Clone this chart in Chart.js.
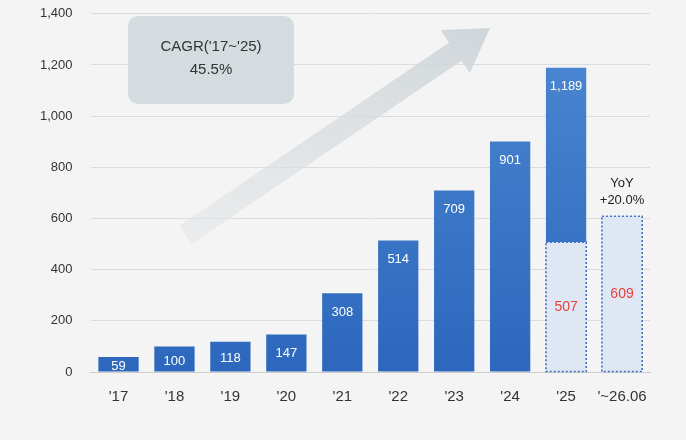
<!DOCTYPE html>
<html><head><meta charset="utf-8">
<script src="https://cdn.jsdelivr.net/npm/chart.js@4"></script>
<style>html,body{margin:0;background:#f4f4f4;overflow:hidden}#wrap{position:relative;top:-12px;width:686px;height:452px}</style>
</head><body><div id="wrap"><canvas id="c"></canvas></div>
<script>
const categories = ["'17","'18","'19","'20","'21","'22","'23","'24","'25","'~26.06"];
const totals = [59,100,118,147,308,514,709,901,1189,null];
const solidPart = [59,100,118,147,308,514,709,901,682,null];
const partialPart = [null,null,null,null,null,null,null,null,507,609];
const yTicks = [0,200,400,600,800,1000,1200,1400];

const OY = 12; // wrapper offset
const decor = {
  id:'decor',
  beforeDatasetsDraw(chart){
    const {ctx, chartArea:a} = chart;
    ctx.save();
    const x0=a.left+95,y0=235+OY,x1=490,y1=28+OY;
    const g=ctx.createLinearGradient(x0,y0,x1,y1);
    g.addColorStop(0,'rgba(225,228,230,0.6)');g.addColorStop(1,'#c6ced3');
    const ang=Math.atan2(y1-y0,x1-x0), w=11, hl=42, hw=26;
    ctx.translate(x0,y0);ctx.rotate(ang);
    const L=Math.hypot(x1-x0,y1-y0);
    ctx.beginPath();ctx.moveTo(0,-w);ctx.lineTo(L-hl,-w);ctx.lineTo(L-hl,-hw);ctx.lineTo(L,0);
    ctx.lineTo(L-hl,hw);ctx.lineTo(L-hl,w);ctx.lineTo(0,w);ctx.closePath();
    ctx.fillStyle=g;ctx.fill();
    ctx.restore();
  },
  afterDatasetsDraw(chart){
    const {ctx} = chart;
    ctx.save();
    ctx.fillStyle='#d4dcdf';
    ctx.beginPath();ctx.roundRect(128,16+OY,166,88,10);ctx.fill();
    ctx.fillStyle='#333';ctx.font='15px "Liberation Sans"';ctx.textAlign='center';ctx.textBaseline='middle';
    ctx.fillText("CAGR('17~'25)",211,47+OY);ctx.fillText('45.5%',211,70+OY);
    const m0=chart.getDatasetMeta(0), m1=chart.getDatasetMeta(1);
    ctx.font='13px "Liberation Sans"';
    m1.data.forEach((b,i)=>{
      if(solidPart[i]==null) return;
      const y = solidPart[i]<120 ? (b.y+b.base)/2+2 : b.y+19;
      ctx.fillStyle='#fff';ctx.fillText(totals[i].toLocaleString('en-US'),b.x,y);
    });
    m0.data.forEach((b,i)=>{
      if(partialPart[i]==null) return;
      ctx.fillStyle='#e8413c';ctx.font='14px "Liberation Sans"';
      ctx.fillText(String(partialPart[i]),b.x,(b.y+b.base)/2);
      ctx.setLineDash([2,2]);ctx.strokeStyle='#3f73bf';ctx.lineWidth=1.6;
      ctx.strokeRect(b.x-b.width/2,b.y,b.width,b.base-b.y);
      ctx.setLineDash([]);
    });
    const last=m0.data[9];
    ctx.fillStyle='#222';ctx.font='13px "Liberation Sans"';
    ctx.fillText('YoY',last.x,last.y-33);ctx.fillText('+20.0%',last.x,last.y-16);
    ctx.restore();
  }
};

new Chart(document.getElementById('c'),{
  type:'bar',
  data:{labels:categories,datasets:[
    {data:partialPart,backgroundColor:'#dfe6f4',barPercentage:0.72,categoryPercentage:1},
    {data:solidPart,barPercentage:0.72,categoryPercentage:1,
     backgroundColor(ctx){const c=ctx.chart,a=c.chartArea;if(!a)return '#3a78c8';
       const g=c.ctx.createLinearGradient(0,a.top,0,a.bottom);g.addColorStop(0,'#4d89d2');g.addColorStop(1,'#2c67bd');return g;}}
  ]},
  options:{
    responsive:true,maintainAspectRatio:false,animation:false,
    layout:{padding:{left:22,right:36,top:5,bottom:26}},
    plugins:{legend:{display:false},tooltip:{enabled:false}},
    scales:{
      x:{stacked:true,grid:{display:false},border:{color:'#ccc'},ticks:{color:'#333',font:{family:'Liberation Sans',size:15},padding:8}},
      y:{stacked:true,min:0,max:1400,afterBuildTicks(s){s.ticks=yTicks.map(v=>({value:v}));},
        grid:{color:'#dcdcdc',drawTicks:false},border:{display:false},
        ticks:{color:'#333',font:{family:'Liberation Sans',size:13},padding:18,callback:v=>v.toLocaleString('en-US')}}
    }
  },
  plugins:[decor]
});
</script></body></html>
